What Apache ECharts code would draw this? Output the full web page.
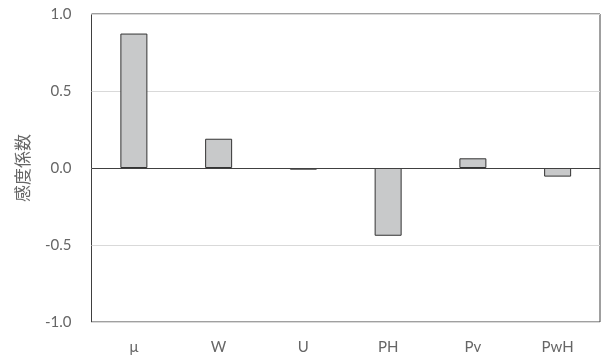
<!DOCTYPE html>
<html><head><meta charset="utf-8">
<script src="https://cdn.jsdelivr.net/npm/echarts@6/dist/echarts.min.js"></script>
<style>html,body{margin:0;padding:0;background:#fff}#c{width:609px;height:359px}</style>
</head><body><div id="c"></div>
<script>
const categories = ['μ', 'W', 'U', 'PH', 'Pv', 'PwH'];
const values = [0.873, 0.19, -0.011, -0.44, 0.063, -0.056];
const yTicks = { min: -1.0, max: 1.0, interval: 0.5 };
const yName = '感度係数';

const chart = echarts.init(document.getElementById('c'), null, { renderer: 'canvas' });
chart.setOption({
  animation: false,
  grid: { left: 91.5, right: 9, top: 14, bottom: 37, show: true, borderColor: '#404040', borderWidth: 1, backgroundColor: 'transparent' },
  xAxis: {
    type: 'category', data: categories,
    axisLine: { show: false, onZero: false },
    axisTick: { show: false },
    axisLabel: { color: '#666666', fontSize: 15, fontFamily: 'Lato', margin: 18 }
  },
  yAxis: {
    type: 'value', min: yTicks.min, max: yTicks.max, interval: yTicks.interval,
    name: yName, nameLocation: 'middle', nameGap: 60, nameRotate: 90,
    nameTextStyle: { color: '#666666', fontSize: 17, fontFamily: 'Noto Sans CJK JP' },
    axisLine: { show: false }, axisTick: { show: false },
    axisLabel: { color: '#666666', fontSize: 15, fontFamily: 'Lato', margin: 20,
      formatter: v => v.toFixed(1) },
    splitLine: { lineStyle: { color: '#d9d9d9', width: 1 } }
  },
  series: [{
    type: 'bar', data: values, barWidth: 27,
    itemStyle: { color: '#c8c9ca', borderColor: '#333333', borderWidth: 1 },
    markLine: { silent: true, symbol: 'none', label: { show: false },
      lineStyle: { color: '#404040', width: 1, type: 'solid' },
      data: [{ yAxis: 0 }] }
  }]
});
</script></body></html>
